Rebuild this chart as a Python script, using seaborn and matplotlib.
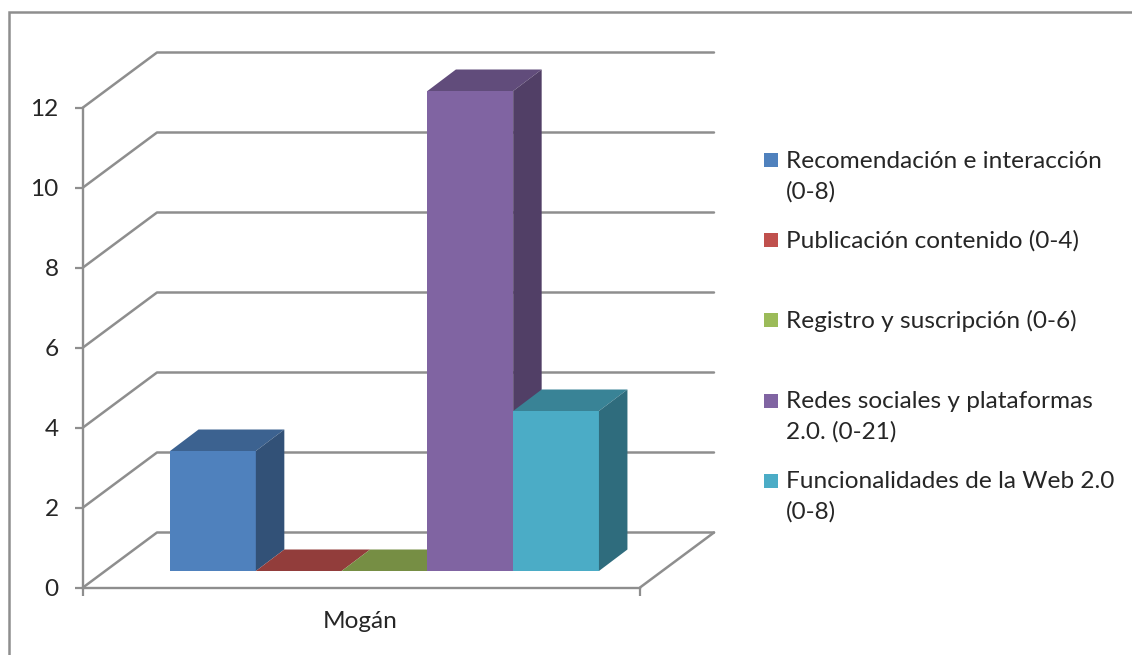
import matplotlib
matplotlib.use("Agg")
import matplotlib.pyplot as plt
from matplotlib.colors import to_rgb
from matplotlib.lines import Line2D
from matplotlib.patches import Polygon, Rectangle
import pandas as pd
import seaborn as sns

# Chart data
category = "Mogán"
series_names = [
    "Recomendación e interacción\n(0-8)",
    "Publicación contenido (0-4)",
    "Registro y suscripción (0-6)",
    "Redes sociales y plataformas\n2.0. (0-21)",
    "Funcionalidades de la Web 2.0\n(0-8)",
]
series_values = [3, 0, 0, 12, 4]
series_colors = ["#4F81BD", "#C0504D", "#9BBB59", "#8064A2", "#4BACC6"]
y_ticks = [0, 2, 4, 6, 8, 10, 12]

W, H = 1132, 655
LINE = "#8E8E8E"
TEXT = "#262626"
FONT_SIZE = 17.6

sns.set_theme(style="white")
plt.rcParams["font.family"] = ["Lato", "DejaVu Sans"]

fig = plt.figure(figsize=(W / 100, H / 100), dpi=100, facecolor="white")


def box(left, right, top, bottom):
    """Axes rectangle from pixel edges measured from the top-left corner."""
    return [left / W, 1 - bottom / H, (right - left) / W, (bottom - top) / H]


def shade(color, factor):
    return tuple(c * factor for c in to_rgb(color))


# Outer chart frame, open at the right and bottom edges
fig.add_artist(Line2D([9 / W, 9 / W, 1], [0, 1 - 12 / H, 1 - 12 / H],
                      color=LINE, lw=1.8, solid_joinstyle="miter"))

# Front plane of the 3D box: carries the axis lines, ticks and labels
ax = fig.add_axes(box(83, 640, 107.5, 587.5))
ax.set_xlim(-0.5, 0.5)
ax.set_ylim(0, 12)
ax.patch.set_visible(False)
ax.set_xticks([-0.5, 0.5], labels=["", ""])
ax.set_yticks(y_ticks)
ax.tick_params(axis="both", direction="out", length=5.5, width=1.6, color=LINE,
               labelsize=FONT_SIZE, labelcolor=TEXT, left=True, bottom=True, pad=12)
for side in ("top", "right"):
    ax.spines[side].set_visible(False)
for side in ("left", "bottom"):
    ax.spines[side].set_color(LINE)
    ax.spines[side].set_linewidth(1.7)
ax.text(-0.003, -0.84, category, ha="center", va="center", fontsize=FONT_SIZE, color=TEXT)

# Receding wall and floor lines, one per gridline value
wall_dx = 74 / 557
wall_dy = 55 / 40
for value in y_ticks:
    ax.plot([-0.5, -0.5 + wall_dx, 0.5 + wall_dx],
            [value, value + wall_dy, value + wall_dy],
            color=LINE, lw=1.8, clip_on=False, zorder=1,
            solid_joinstyle="round", solid_capstyle="round")
ax.plot([0.5, 0.5 + wall_dx], [0, wall_dy], color=LINE, lw=1.8, clip_on=False, zorder=1,
        solid_capstyle="round")

# Bars sit in an overlay shifted into the depth of the box
bar_ax = fig.add_axes(box(106, 663, 91, 571))
bars = pd.DataFrame({
    "categoria": [category] * len(series_names),
    "serie": series_names,
    "valor": series_values,
})
sns.barplot(data=bars, x="categoria", y="valor", hue="serie", hue_order=series_names,
            palette=series_colors, width=0.77, gap=0, saturation=1, legend=False,
            ax=bar_ax)
bar_ax.set_xlim(-0.5, 0.5)
bar_ax.set_ylim(0, 12)
bar_ax.axis("off")

# Top and side faces extruded from each bar
bar_dx = 28.5 / 557
bar_dy = 21.5 / 40
for i, (container, color) in enumerate(zip(bar_ax.containers, series_colors)):
    for bar in container:
        x0 = bar.get_x()
        x1 = x0 + bar.get_width()
        top = bar.get_height()
        bar.set_zorder(10 + 3 * i)
        bar.set_linewidth(0)
        bar.set_clip_on(False)
        bar_ax.add_patch(Polygon(
            [(x0, top), (x1, top), (x1 + bar_dx, top + bar_dy), (x0 + bar_dx, top + bar_dy)],
            closed=True, facecolor=shade(color, 0.76), edgecolor="none",
            clip_on=False, zorder=10 + 3 * i))
        if top > 0:
            bar_ax.add_patch(Polygon(
                [(x1, 0), (x1 + bar_dx, bar_dy), (x1 + bar_dx, top + bar_dy), (x1, top)],
                closed=True, facecolor=shade(color, 0.63), edgecolor="none",
                clip_on=False, zorder=10 + 3 * i))

# Legend with evenly spaced entries, swatch level with the first text line
for i, (name, color) in enumerate(zip(series_names, series_colors)):
    y_px = 160 + 80.2 * i
    fig.add_artist(Rectangle((764 / W, 1 - (y_px + 7) / H), 14 / W, 14 / H,
                             transform=fig.transFigure, facecolor=color, edgecolor="none"))
    for j, line in enumerate(name.split("\n")):
        fig.text(785.5 / W, 1 - (y_px - 1 + 30.5 * j) / H, line, ha="left", va="center_baseline",
                 fontsize=FONT_SIZE, color=TEXT)

fig.savefig("out.png", dpi=100, facecolor="white")
